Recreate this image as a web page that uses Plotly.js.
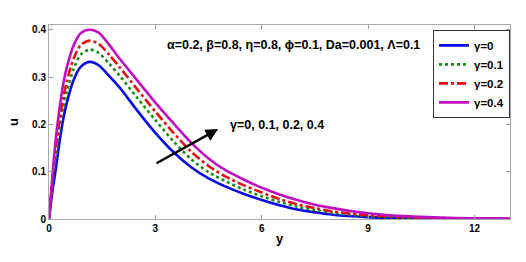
<!DOCTYPE html>
<html><head><meta charset="utf-8">
<script src="https://cdn.plot.ly/plotly-3.0.1.min.js"></script>
<style>html,body{margin:0;padding:0;background:#fff}#plot{width:526px;height:262px}</style>
</head><body><div id="plot"></div>
<script>
const yPos = [0,0.1,0.2,0.3,0.4,0.5,0.7,0.9,1.15,1.4,1.7,2.0,2.5,3.0,3.5,4.0,4.5,5.0,5.5,6.0,6.5,7.0,7.5,8.0,9,10,11,12,13];
const uGamma0  = [0,0.060,0.110,0.165,0.210,0.245,0.295,0.322,0.332,0.325,0.302,0.277,0.228,0.182,0.142,0.110,0.086,0.068,0.053,0.040,0.029,0.020,0.014,0.009,0.004,0.002,0.001,0.0003,0];
const uGamma01 = [0,0.075,0.135,0.190,0.235,0.268,0.318,0.348,0.358,0.351,0.328,0.302,0.255,0.209,0.165,0.127,0.099,0.079,0.062,0.048,0.036,0.026,0.019,0.013,0.006,0.003,0.0015,0.0006,0];
const uGamma02 = [0,0.085,0.155,0.210,0.255,0.290,0.340,0.368,0.377,0.370,0.347,0.320,0.273,0.227,0.183,0.143,0.112,0.089,0.071,0.056,0.042,0.031,0.023,0.016,0.008,0.004,0.002,0.001,0];
const uGamma04 = [0,0.095,0.175,0.235,0.285,0.320,0.368,0.393,0.400,0.394,0.368,0.338,0.292,0.246,0.203,0.162,0.128,0.102,0.083,0.066,0.052,0.040,0.030,0.023,0.012,0.006,0.003,0.0015,0.0008];
const seriesNames = ['γ=0','γ=0.1','γ=0.2','γ=0.4'];
const xTicks = [0,3,6,9,12];
const yTicks = [0,0.1,0.2,0.3,0.4];
const yTickText = ['0','0.1','0.2','0.3','0.4'];
const paramText = 'α=0.2, β=0.8, η=0.8, ϕ=0.1, Da=0.001, Λ=0.1';
const arrowText = 'γ=0, 0.1, 0.2, 0.4';

const styles = [
  {color:'#0a0ae6', dash:'solid'},
  {color:'#1a8c1a', dash:'dot'},
  {color:'#e01010', dash:'dashdot'},
  {color:'#c010c0', dash:'solid'}
];
const ys = [uGamma0,uGamma01,uGamma02,uGamma04];
const traces = ys.map((u,i)=>({
  x:yPos, y:u, type:'scatter', mode:'lines', name:seriesNames[i],
  line:{color:styles[i].color, dash:styles[i].dash, width:2.6, shape:'spline', smoothing:0.8}
}));
const F = 'Liberation Sans, Arial, sans-serif';
const layout = {
  width:526, height:262,
  margin:{l:49, r:16, t:25, b:43},
  paper_bgcolor:'#fff', plot_bgcolor:'#fff',
  showlegend:true,
  legend:{x:1, xanchor:'right', y:0.975, yanchor:'top', bgcolor:'#fff', bordercolor:'#333', borderwidth:1,
    font:{family:F, size:11.5, color:'#000', weight:'bold'}, tracegroupgap:0, itemwidth:30},
  xaxis:{range:[0,13], tickvals:xTicks, ticktext:xTicks.map(String), ticks:'inside', ticklen:4, tickcolor:'#999',
    showline:true, linecolor:'#aaa', linewidth:1, mirror:'ticks', showgrid:false, zeroline:false,
    tickfont:{family:F, size:10, color:'#000', weight:'bold'},
    title:{text:'y', font:{family:F, size:13, color:'#000', weight:'bold'}, standoff:0}},
  yaxis:{range:[0,0.41], tickvals:yTicks, ticktext:yTickText, ticks:'inside', ticklen:4, tickcolor:'#999',
    showline:true, linecolor:'#aaa', linewidth:1, mirror:'ticks', showgrid:false, zeroline:false,
    tickfont:{family:F, size:10, color:'#000', weight:'bold'},
    title:{text:'u', font:{family:F, size:13, color:'#000', weight:'bold'}, standoff:10}},
  annotations:[
    {x:3.28, y:0.368, xref:'x', yref:'y', xanchor:'left', yanchor:'middle', showarrow:false,
     text:paramText, font:{family:F, size:12.5, color:'#000', weight:'bold'}},
    {x:4.77, y:0.19, ax:2.99, ay:0.116, xref:'x', yref:'y', axref:'x', ayref:'y', showarrow:true,
     arrowhead:2, arrowsize:1, arrowwidth:2.5, arrowcolor:'#000', text:''},
    {x:5.05, y:0.199, xref:'x', yref:'y', xanchor:'left', yanchor:'middle', showarrow:false,
     text:arrowText, font:{family:F, size:12.5, color:'#000', weight:'bold'}}
  ]
};
Plotly.newPlot('plot', traces, layout, {staticPlot:true, displayModeBar:false});
</script></body></html>
